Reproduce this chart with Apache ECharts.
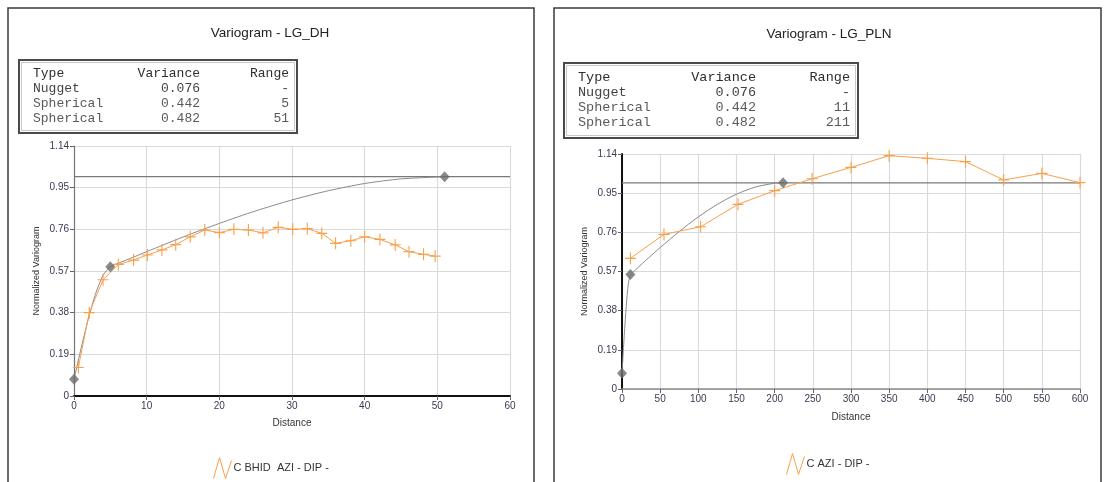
<!DOCTYPE html>
<html>
<head>
<meta charset="utf-8">
<script src="https://cdn.jsdelivr.net/npm/echarts@6/dist/echarts.min.js"></script>
<style>
  html, body { margin: 0; padding: 0; background: #ffffff; }
  #chart { width: 1104px; height: 482px; }
</style>
</head>
<body>
<div id="chart"></div>
<script>
// ---- LG_DH: experimental variogram (lag distance, normalized gamma) ----
const dhLags  = [0.6, 2.1, 4.0, 6.1, 8.2, 10.1, 12.1, 14.0, 16.0, 18.0, 20.0, 22.0, 24.0, 26.0, 28.1, 30.1, 32.1, 34.1, 36.0, 38.1, 40.0, 42.1, 44.2, 46.1, 48.1, 49.7];
const dhGamma = [0.13, 0.38, 0.53, 0.60, 0.62, 0.643, 0.666, 0.69, 0.726, 0.757, 0.745, 0.76, 0.757, 0.744, 0.769, 0.76, 0.763, 0.742, 0.696, 0.708, 0.726, 0.714, 0.689, 0.658, 0.646, 0.638];

// LG_DH fitted model curve
const dhModelLags  = [0, 1, 2, 3, 4, 5, 7.5, 10, 15, 20, 25, 30, 35, 40, 45, 51];
const dhModelGamma = [0.076, 0.221, 0.355, 0.469, 0.550, 0.589, 0.624, 0.658, 0.725, 0.787, 0.844, 0.894, 0.936, 0.969, 0.990, 1.0];
// LG_DH model structure nodes (nugget, first range, second range)
const dhNodeLags  = [0, 5, 51];
const dhNodeGamma = [0.076, 0.589, 1.0];

// ---- LG_PLN: experimental variogram ----
const plnLags  = [11, 55, 103, 152, 200, 249, 300, 350, 400, 450, 500, 550, 600];
const plnGamma = [0.634, 0.75, 0.787, 0.896, 0.962, 1.02, 1.075, 1.132, 1.119, 1.103, 1.014, 1.046, 1.001];

// LG_PLN fitted model curve
const plnModelLags  = [0, 2, 4, 6, 8, 11, 15, 20, 25, 35, 50, 75, 100, 125, 150, 175, 200, 211];
const plnModelGamma = [0.076, 0.202, 0.320, 0.422, 0.501, 0.556, 0.569, 0.586, 0.603, 0.637, 0.686, 0.764, 0.835, 0.896, 0.945, 0.980, 0.998, 1.0];
const plnNodeLags  = [0, 11, 211];
const plnNodeGamma = [0.076, 0.556, 1.0];

// Total sill
const sill = 1.0;

// Model tables
const tableHeader   = ['Type', 'Variance', 'Range'];
const tableTypes    = ['Nugget', 'Spherical', 'Spherical'];
const tableVariance = ['0.076', '0.442', '0.482'];
const dhRanges      = ['-', '5', '51'];
const plnRanges     = ['-', '11', '211'];

// Axis ticks
const yTicks    = [0, 0.19, 0.38, 0.57, 0.76, 0.95, 1.14];
const dhXTicks  = [0, 10, 20, 30, 40, 50, 60];
const plnXTicks = [0, 50, 100, 150, 200, 250, 300, 350, 400, 450, 500, 550, 600];

// Titles and legend names
const dhTitle  = 'Variogram - LG_DH';
const plnTitle = 'Variogram - LG_PLN';
const dhSeriesName  = 'C BHID  AZI - DIP -';
const plnSeriesName = 'C AZI - DIP -';

const FONT_UI   = '"Liberation Sans", Arial, sans-serif';
const FONT_MONO = '"Liberation Mono", "Courier New", monospace';
const ORANGE = '#f9a04a';
const MODEL_GREY = '#8a8a8a';
const GRID_GREY = '#dadada';
const LABEL_COLOR = '#3a3a52';

const pairs = (xs, ys) => xs.map((x, i) => [x, ys[i]]);

const plusSymbol = 'path://M0,5.4H12V6.6H0Z M5.4,0H6.6V12H5.4Z';
const zigzagIcon = 'path://M0,22L6,1L12,22L18,4';

function yAxisFor(gridIndex, lineColor, lineWidth) {
  return {
    type: 'value', gridIndex,
    min: yTicks[0], max: yTicks[yTicks.length - 1], interval: yTicks[1] - yTicks[0],
    name: 'Normalized Variogram', nameLocation: 'middle', nameGap: 33,
    nameTextStyle: { fontFamily: FONT_UI, fontSize: 9, color: '#333' },
    axisLine: { show: true, lineStyle: { color: lineColor, width: lineWidth } },
    axisTick: { show: true, length: 4, lineStyle: { color: '#666' } },
    axisLabel: {
      fontFamily: FONT_UI, fontSize: 10, color: LABEL_COLOR, margin: 5,
      formatter: v => {
        const t = yTicks.find(k => Math.abs(k - v) < 1e-6);
        return t === undefined ? '' : (t === 0 ? '0' : t.toFixed(2));
      }
    },
    splitLine: { show: true, lineStyle: { color: GRID_GREY, width: 1.2 } }
  };
}

function xAxisFor(gridIndex, ticks, lineColor, lineWidth, nameGap) {
  return {
    type: 'value', gridIndex,
    min: ticks[0], max: ticks[ticks.length - 1], interval: ticks[1] - ticks[0],
    name: 'Distance', nameLocation: 'middle', nameGap,
    nameTextStyle: { fontFamily: FONT_UI, fontSize: 10, color: '#333' },
    axisLine: { show: true, onZero: false, lineStyle: { color: lineColor, width: lineWidth } },
    axisTick: { show: true, length: 4, lineStyle: { color: '#666' } },
    axisLabel: { fontFamily: FONT_UI, fontSize: 10, color: LABEL_COLOR, margin: 5 },
    splitLine: { show: true, lineStyle: { color: GRID_GREY, width: 1.2 } }
  };
}

function tableGroup(box, cols, rowsY, ranges, fontSize) {
  const font = fontSize + 'px ' + FONT_MONO;
  const children = [
    { type: 'rect', shape: { x: box.x, y: box.y, width: box.w, height: box.h },
      style: { fill: '#fff', stroke: '#4a4a4a', lineWidth: 2 } },
    { type: 'rect', shape: { x: box.x + 2.5, y: box.y + 2.5, width: box.w - 5, height: box.h - 5 },
      style: { fill: 'none', stroke: '#c8c8c8', lineWidth: 1 } }
  ];
  const rows = [tableHeader].concat(tableTypes.map((t, i) => [t, tableVariance[i], ranges[i]]));
  rows.forEach((r, i) => {
    const color = i === 0 ? '#2e2e2e' : (i === 1 ? '#444' : '#5a5a5a');
    children.push({ type: 'text', x: cols.type, y: rowsY[i],
      style: { text: r[0], font, fill: color, align: 'left', verticalAlign: 'middle' } });
    children.push({ type: 'text', x: cols.variance, y: rowsY[i],
      style: { text: r[1], font, fill: color, align: 'right', verticalAlign: 'middle' } });
    children.push({ type: 'text', x: cols.range, y: rowsY[i],
      style: { text: r[2], font, fill: color, align: 'right', verticalAlign: 'middle' } });
  });
  return { type: 'group', children };
}

function legendFor(name, left, top) {
  return {
    left, top, padding: 0, orient: 'horizontal', itemWidth: 18, itemHeight: 22, itemGap: 4,
    selectedMode: false,
    textStyle: { fontFamily: FONT_UI, fontSize: 11, color: '#333', padding: [0, 0, 0, -3] },
    data: [{ name, icon: zigzagIcon, itemStyle: { color: 'none', borderColor: ORANGE, borderWidth: 1 } }]
  };
}

function seriesFor(idx, name, exp, model, nodes, xMax) {
  return [
    { type: 'line', name: 'sill', xAxisIndex: idx, yAxisIndex: idx, silent: true,
      data: [[0, sill], [xMax, sill]], symbol: 'none',
      lineStyle: { color: '#7a7a7a', width: 1.2 }, z: 2 },
    { type: 'line', name: 'model', xAxisIndex: idx, yAxisIndex: idx, silent: true,
      data: model, symbol: 'none', smooth: 0.25,
      lineStyle: { color: MODEL_GREY, width: 1 }, z: 3 },
    { type: 'line', name, xAxisIndex: idx, yAxisIndex: idx,
      data: exp, symbol: plusSymbol, symbolSize: [11, 12], showAllSymbol: true,
      lineStyle: { color: ORANGE, width: 1 }, itemStyle: { color: ORANGE }, z: 4 },
    { type: 'scatter', name: 'nodes', xAxisIndex: idx, yAxisIndex: idx, silent: true,
      data: nodes, symbol: 'diamond', symbolSize: [10, 11], clip: false,
      itemStyle: { color: '#6b6b6b' }, z: 5 }
  ];
}

const chart = echarts.init(document.getElementById('chart'), null, { renderer: 'canvas' });

chart.setOption({
  animation: false,
  backgroundColor: '#ffffff',
  grid: [
    { left: 74, top: 146, width: 436, height: 250 },
    { left: 622, top: 154, width: 458, height: 235 }
  ],
  xAxis: [
    xAxisFor(0, dhXTicks, '#111', 2, 22),
    xAxisFor(1, plnXTicks, '#8a8a8a', 1.5, 23)
  ],
  yAxis: [
    yAxisFor(0, '#777', 1.2),
    yAxisFor(1, '#111', 2)
  ],
  legend: [
    legendFor(dhSeriesName, 211, 455),
    legendFor(plnSeriesName, 784, 451)
  ],
  graphic: [
    // panel frames
    { type: 'rect', silent: true, z: -10, shape: { x: 8, y: 8, width: 526, height: 490 },
      style: { fill: 'none', stroke: '#3a3a3a', lineWidth: 1.5 } },
    { type: 'rect', silent: true, z: -10, shape: { x: 554, y: 8, width: 547, height: 490 },
      style: { fill: 'none', stroke: '#3a3a3a', lineWidth: 1.5 } },
    // titles
    { type: 'text', x: 270, y: 33,
      style: { text: dhTitle, font: '13.5px ' + FONT_UI, fill: '#222', align: 'center', verticalAlign: 'middle' } },
    { type: 'text', x: 829, y: 34,
      style: { text: plnTitle, font: '13.5px ' + FONT_UI, fill: '#222', align: 'center', verticalAlign: 'middle' } },
    // model tables
    tableGroup({ x: 19, y: 60, w: 278, h: 73 }, { type: 33, variance: 200, range: 289 }, [74, 89, 104, 119], dhRanges, 13),
    tableGroup({ x: 564, y: 63, w: 294, h: 75 }, { type: 578, variance: 756, range: 850 }, [77, 92, 107, 122], plnRanges, 13.5)
  ],
  series: [].concat(
    seriesFor(0, dhSeriesName, pairs(dhLags, dhGamma), pairs(dhModelLags, dhModelGamma), pairs(dhNodeLags, dhNodeGamma), dhXTicks[dhXTicks.length - 1]),
    seriesFor(1, plnSeriesName, pairs(plnLags, plnGamma), pairs(plnModelLags, plnModelGamma), pairs(plnNodeLags, plnNodeGamma), plnXTicks[plnXTicks.length - 1])
  )
});
</script>
</body>
</html>
